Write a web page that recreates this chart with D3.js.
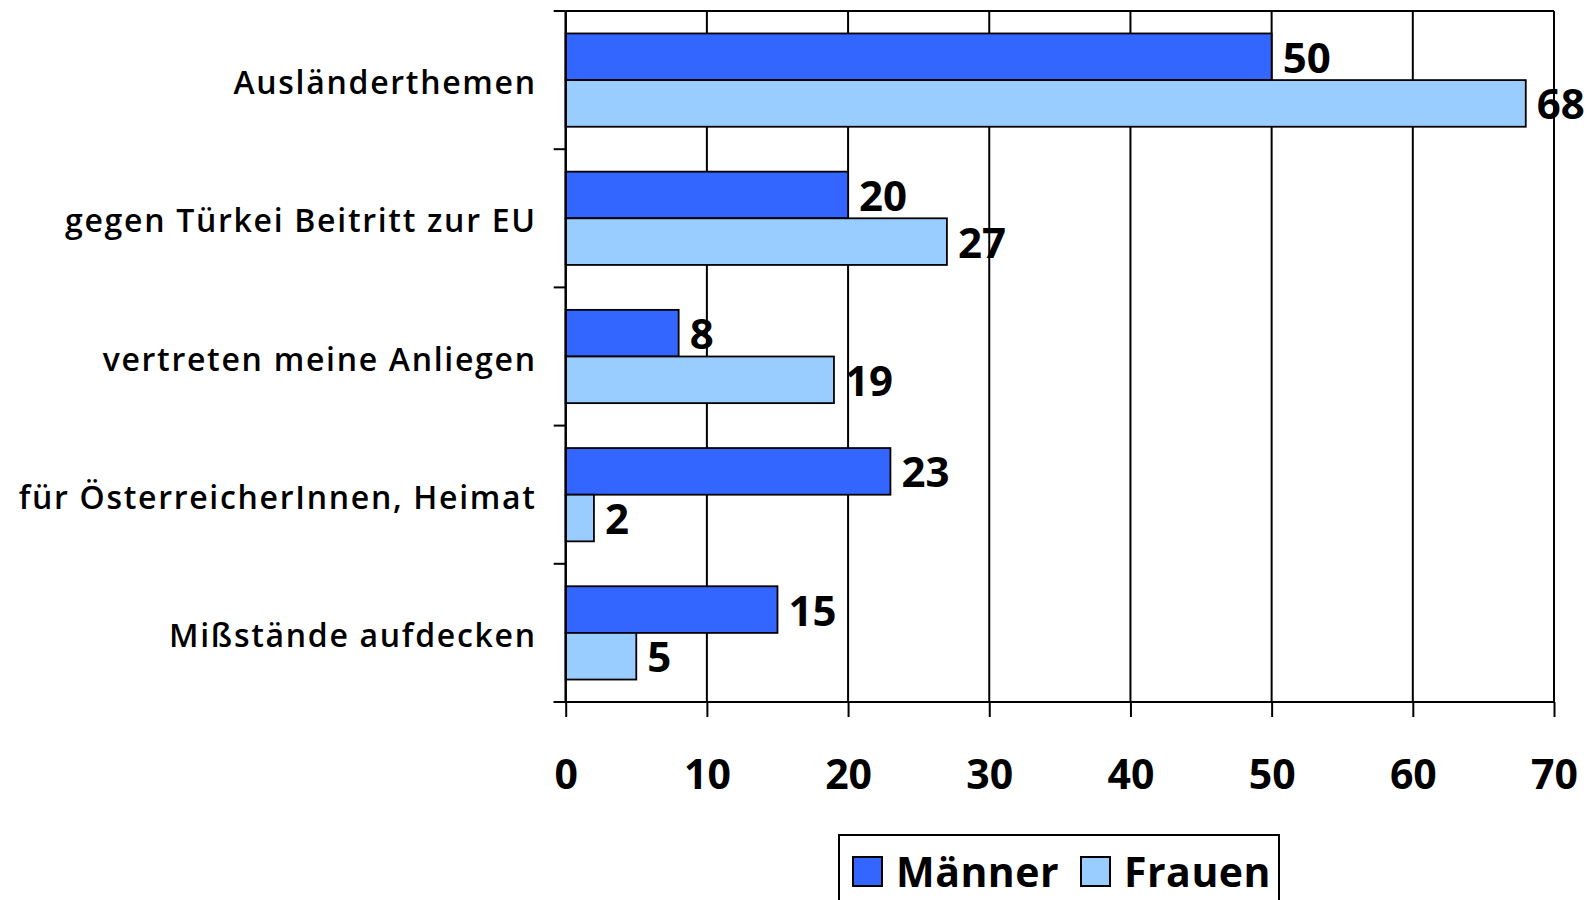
<!DOCTYPE html>
<html>
<head>
<meta charset="utf-8">
<script src="https://cdn.jsdelivr.net/npm/d3@7"></script>
<style>
  html, body { margin: 0; padding: 0; background: #fff; }
  svg { display: block; }
</style>
</head>
<body>
<svg id="chart" width="1591" height="900"></svg>
<script>
const categories = ["Ausländerthemen", "gegen Türkei Beitritt zur EU", "vertreten meine Anliegen", "für ÖsterreicherInnen, Heimat", "Mißstände aufdecken"];
const seriesNames = ["Männer", "Frauen"];
const maenner = [50, 20, 8, 23, 15];
const frauen = [68, 27, 19, 2, 5];
const xTicks = [0, 10, 20, 30, 40, 50, 60, 70];
const colors = ["#3366FF", "#99CCFF"];

(function () {
const svg = d3.select("#chart");
const pLeft = 565.7, pRight = 1554, pTop = 11, pBottom = 702;
const x = d3.scaleLinear().domain([0, 70]).range([pLeft, pRight]);
const y = d3.scaleBand().domain(categories).range([pTop, pBottom]).paddingInner(0.325).paddingOuter(0.1625);
const ySub = d3.scaleBand().domain(seriesNames).range([0, y.bandwidth()]);

const numFont = "'Open Sans', 'DejaVu Sans', sans-serif";

// gridlines
svg.append("g").selectAll("line").data(xTicks.filter(d => d > 0)).join("line")
  .attr("x1", d => x(d)).attr("x2", d => x(d)).attr("y1", pTop).attr("y2", pBottom)
  .attr("stroke", "#000").attr("stroke-width", 2);
// top border
svg.append("line").attr("x1", pLeft).attr("x2", pRight).attr("y1", pTop).attr("y2", pTop)
  .attr("stroke", "#000").attr("stroke-width", 2);

// bars
const data = categories.map((c, i) => ({ c, vals: [maenner[i], frauen[i]] }));
const groups = svg.append("g").selectAll("g").data(data).join("g")
  .attr("transform", d => `translate(0,${y(d.c)})`);
groups.selectAll("rect").data(d => d.vals.map((v, j) => ({ v, s: seriesNames[j], j }))).join("rect")
  .attr("x", x(0)).attr("y", d => ySub(d.s)).attr("width", d => x(d.v) - x(0)).attr("height", ySub.bandwidth())
  .attr("fill", d => colors[d.j]).attr("stroke", "#000").attr("stroke-width", 1.8);
groups.selectAll("text").data(d => d.vals.map((v, j) => ({ v, s: seriesNames[j], j }))).join("text")
  .attr("x", d => x(d.v) + 11).attr("y", d => ySub(d.s) + ySub.bandwidth() / 2 + 16)
  .attr("font-family", numFont).attr("font-weight", "bold").attr("font-size", 42)
  .attr("fill", "#000").text(d => d.v);

// x axis
const xAxis = svg.append("g").attr("transform", `translate(0,${pBottom})`)
  .call(d3.axisBottom(x).tickValues(xTicks).tickSize(15).tickPadding(43).tickSizeOuter(0));
xAxis.select(".domain").attr("stroke", "#000").attr("stroke-width", 2).attr("d", `M${pLeft - 12},0H${pRight}`);
xAxis.selectAll(".tick line").attr("stroke", "#000").attr("stroke-width", 2);
xAxis.selectAll(".tick text").attr("font-family", numFont).attr("font-weight", "bold").attr("font-size", 41).attr("fill", "#000");

// y axis
const yAxis = svg.append("g").attr("transform", `translate(${pLeft},0)`);
yAxis.append("line").attr("x1", 0).attr("x2", 0).attr("y1", pTop).attr("y2", pBottom)
  .attr("stroke", "#000").attr("stroke-width", 2.5);
const yBounds = d3.range(categories.length + 1).map(i => pTop + i * (pBottom - pTop) / categories.length);
yAxis.selectAll("line.t").data(yBounds).join("line").attr("class", "t")
  .attr("x1", -12).attr("x2", 0).attr("y1", d => d).attr("y2", d => d)
  .attr("stroke", "#000").attr("stroke-width", 2);
yAxis.selectAll("text").data(categories).join("text")
  .attr("x", -29).attr("y", d => y(d) + y.bandwidth() / 2 + 14)
  .attr("text-anchor", "end").attr("font-family", numFont).attr("font-weight", 600)
  .attr("font-size", 32).attr("letter-spacing", "1.7px").attr("fill", "#000").text(d => d);

// legend
const lg = svg.append("g");
lg.append("rect").attr("x", 839).attr("y", 835).attr("width", 440).attr("height", 80)
  .attr("fill", "#fff").attr("stroke", "#000").attr("stroke-width", 2);
const legendX = [853, 1081];
seriesNames.forEach((s, i) => {
  lg.append("rect").attr("x", legendX[i]).attr("y", 857).attr("width", 29).attr("height", 29)
    .attr("fill", colors[i]).attr("stroke", "#000").attr("stroke-width", 2);
  lg.append("text").attr("x", legendX[i] + 43).attr("y", 887)
    .attr("font-family", numFont).attr("font-weight", "bold").attr("font-size", 41)
    .attr("letter-spacing", "0.5px").attr("fill", "#000").text(s);
});
})();
</script>
</body>
</html>
